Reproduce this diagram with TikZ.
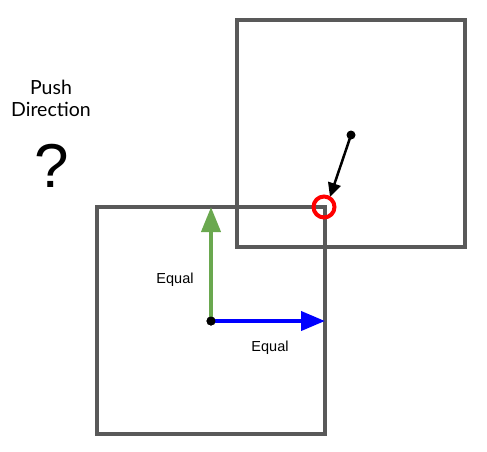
\documentclass[tikz,border=0pt]{standalone}
\usepackage{fontspec}
\setmainfont{Liberation Sans}
\newfontfamily\latofont{Lato}
\usetikzlibrary{arrows.meta,calc}
\begin{document}
\begin{tikzpicture}[x=1pt,y=-1pt,
  box/.style={draw=black!65,line width=3.5pt},
  dotn/.style={circle,fill=black,inner sep=0pt,minimum size=9pt},
  lbl/.style={font=\fontsize{14.5}{17}\selectfont}]
\useasboundingbox (0,0) rectangle (487,451);
\draw[box] (97,207) rectangle (325,434);
\draw[box] (237,20) rectangle (465,247);
\node[dotn] (o) at (211,321) {};
\node[dotn] (p) at (351,135) {};
\coordinate (g) at (211,207);
\coordinate (b) at (325,321);
\coordinate (c) at (324,207);
\coordinate (t) at (330,197);
\draw[line width=4pt,color={rgb,255:red,106;green,168;blue,79},-{Triangle[length=25pt,width=19pt]}] (o.center) -- (g);
\draw[line width=4pt,color=blue,-{Triangle[length=24pt,width=19pt]}] (o.center) -- (b);
\node[dotn] at (o) {};
\draw[line width=2.5pt,-{Triangle[length=14pt,width=13pt]}] (p.center) -- (t);
\node[circle,draw=red,line width=4pt,minimum size=21pt,inner sep=0pt] (r) at (c) {};
\node[lbl] (e1) at (175,280) {Equal};
\node[lbl] (e2) at (270,348) {Equal};
\node[align=center,font=\latofont\fontsize{19.5}{22}\selectfont] (pd) at (51,98) {Push\\Direction};
\node[font=\fontsize{62}{62}\selectfont] (q) at (52,166) {?};
\end{tikzpicture}
\end{document}
